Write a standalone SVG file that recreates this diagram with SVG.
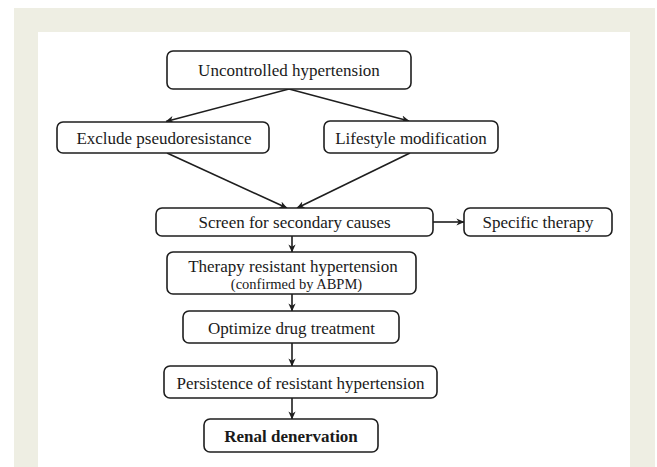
<svg xmlns="http://www.w3.org/2000/svg" width="657" height="467" viewBox="0 0 657 467">
<style>
.box{fill:#ffffff;stroke:#1e1e1e;stroke-width:1.6}
.t{font-family:"Liberation Serif","Times New Roman",serif;font-size:17px;fill:#1a1a1a;text-anchor:middle}
.s{font-size:14.5px}
.b{font-weight:bold}
.c{fill:none;stroke:#1e1e1e;stroke-width:1.6}
</style>
<defs>
<marker id="ah" viewBox="0 0 10 10" refX="9.5" refY="5" markerWidth="8" markerHeight="8" markerUnits="userSpaceOnUse" orient="auto">
<path d="M0,0.5 L10,5 L0,9.5 L3,5 Z" fill="#1e1e1e"/>
</marker>
</defs>
<rect x="0" y="0" width="657" height="467" fill="#ffffff"/>
<rect x="14" y="8" width="641" height="459" fill="#eeeee3"/>
<rect x="38" y="32" width="592" height="435" fill="#ffffff"/>
<g id="connectors">
<line class="c" x1="289" y1="89" x2="166" y2="121.5" marker-end="url(#ah)"/>
<line class="c" x1="289" y1="89" x2="409" y2="121" marker-end="url(#ah)"/>
<line class="c" x1="167" y1="153" x2="287" y2="208" marker-end="url(#ah)"/>
<line class="c" x1="410" y1="153" x2="297" y2="208" marker-end="url(#ah)"/>
<line class="c" x1="433" y1="222" x2="464" y2="222" marker-end="url(#ah)"/>
<line class="c" x1="292" y1="236" x2="292" y2="252" marker-end="url(#ah)"/>
<line class="c" x1="292" y1="294" x2="292" y2="311" marker-end="url(#ah)"/>
<line class="c" x1="292" y1="343" x2="292" y2="366" marker-end="url(#ah)"/>
<line class="c" x1="292" y1="398" x2="292" y2="419" marker-end="url(#ah)"/>
</g>
<g id="uncontrolled">
<rect class="box" x="167" y="51" width="244" height="38" rx="6"/>
<text class="t" x="289" y="76">Uncontrolled hypertension</text>
</g>
<g id="exclude">
<rect class="box" x="57" y="122" width="212" height="31" rx="6"/>
<text class="t" x="164" y="144">Exclude pseudoresistance</text>
</g>
<g id="lifestyle">
<rect class="box" x="324" y="121" width="174" height="32" rx="6"/>
<text class="t" x="411" y="144">Lifestyle modification</text>
</g>
<g id="screen">
<rect class="box" x="156" y="208" width="277" height="28" rx="6"/>
<text class="t" x="294.5" y="228">Screen for secondary causes</text>
</g>
<g id="specific">
<rect class="box" x="464" y="208" width="148" height="28" rx="6"/>
<text class="t" x="538" y="228">Specific therapy</text>
</g>
<g id="therapy">
<rect class="box" x="167" y="252" width="249" height="42" rx="6"/>
<text class="t" x="293" y="272">Therapy resistant hypertension</text>
<text class="t s" x="296.5" y="289">(confirmed by ABPM)</text>
</g>
<g id="optimize">
<rect class="box" x="183" y="311" width="216" height="32" rx="6"/>
<text class="t" x="291.5" y="334">Optimize drug treatment</text>
</g>
<g id="persistence">
<rect class="box" x="164" y="366" width="273" height="32" rx="6"/>
<text class="t" x="300.5" y="389">Persistence of resistant hypertension</text>
</g>
<g id="renal">
<rect class="box" x="204" y="419" width="174" height="33" rx="6"/>
<text class="t b" x="291" y="442">Renal denervation</text>
</g>
</svg>
